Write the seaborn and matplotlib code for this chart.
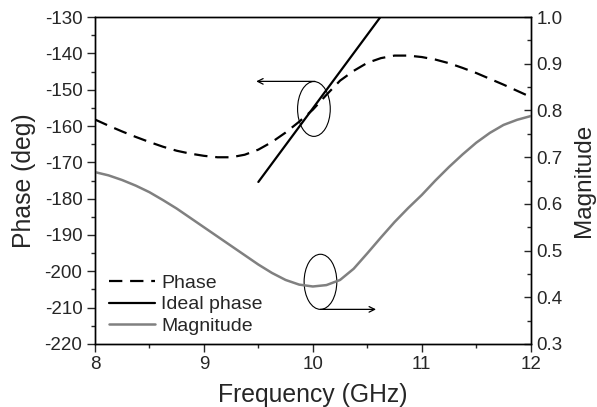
import numpy as np
import pandas as pd
import seaborn as sns
import matplotlib.pyplot as plt
from matplotlib.patches import Ellipse
from matplotlib.ticker import MultipleLocator

freq = [8.0, 8.125, 8.25, 8.375, 8.5, 8.625, 8.75, 8.875, 9.0, 9.125, 9.25,
        9.375, 9.5, 9.625, 9.75, 9.875, 10.0, 10.125, 10.25, 10.375, 10.5,
        10.625, 10.75, 10.875, 11.0, 11.125, 11.25, 11.375, 11.5, 11.625,
        11.75, 11.875, 12.0]
phase = [-158.2, -159.9, -161.5, -163.0, -164.4, -165.7, -166.8, -167.6,
         -168.2, -168.6, -168.6, -167.9, -166.5, -164.4, -161.8, -158.8,
         -155.5, -151.4, -147.5, -144.8, -142.6, -141.3, -140.6, -140.6,
         -141.0, -141.7, -142.7, -144.0, -145.4, -147.0, -148.6, -150.3,
         -152.0]
magnitude = [0.668, 0.661, 0.651, 0.639, 0.625, 0.608, 0.590, 0.570, 0.550,
             0.530, 0.510, 0.490, 0.470, 0.452, 0.437, 0.427, 0.423, 0.426,
             0.437, 0.461, 0.494, 0.528, 0.561, 0.591, 0.619, 0.650, 0.679,
             0.706, 0.731, 0.752, 0.769, 0.780, 0.788]

ideal_freq = [9.5, 10.62]
ideal_phase = [-175.4, -130.0]

df = pd.DataFrame({'freq': freq, 'phase': phase, 'magnitude': magnitude})
ideal = pd.DataFrame({'freq': ideal_freq, 'phase': ideal_phase})

sns.set_style('ticks')
plt.rcParams['font.family'] = ['Liberation Sans', 'DejaVu Sans']
plt.rcParams['axes.unicode_minus'] = False

fig = plt.figure(figsize=(5.97, 4.07), dpi=100)
ax = fig.add_axes([0.159, 0.155, 0.730, 0.803])
ax2 = ax.twinx()

sns.lineplot(data=df, x='freq', y='phase', ax=ax, color='black', lw=1.6,
             label='Phase', legend=False)
ax.lines[-1].set_dashes((6, 3.5))
sns.lineplot(data=ideal, x='freq', y='phase', ax=ax, color='black', lw=1.6,
             label='Ideal phase', legend=False)
sns.lineplot(data=df, x='freq', y='magnitude', ax=ax2, color='#808080',
             lw=1.8, label='Magnitude', legend=False)

ax.set_xlim(8, 12)
ax.set_ylim(-220, -130)
ax2.set_ylim(0.3, 1.0)

ax.xaxis.set_major_locator(MultipleLocator(1))
ax.xaxis.set_minor_locator(MultipleLocator(0.5))
ax.yaxis.set_major_locator(MultipleLocator(10))
ax.yaxis.set_minor_locator(MultipleLocator(5))
ax2.yaxis.set_major_locator(MultipleLocator(0.1))
ax2.yaxis.set_minor_locator(MultipleLocator(0.05))
ax2.yaxis.set_major_formatter(plt.FormatStrFormatter('%.1f'))

ax.tick_params(axis='both', which='major', direction='out', length=6,
               width=1, labelsize=13.5, top=False, pad=3)
ax.tick_params(axis='both', which='minor', direction='out', length=3,
               width=1, top=False)
ax2.tick_params(axis='y', which='major', direction='in', length=5, width=1,
                labelsize=13.5, pad=4)
ax2.tick_params(axis='y', which='minor', direction='in', length=3, width=1)

for a in (ax, ax2):
    for s in a.spines.values():
        s.set_visible(True)
        s.set_linewidth(1.0)
        s.set_color('black')

ax.set_xlabel('Frequency (GHz)', fontsize=17.8, labelpad=7)
ax.set_ylabel('Phase (deg)', fontsize=17.8)
ax2.set_ylabel('Magnitude', fontsize=17.5)
ax.yaxis.set_label_coords(-0.136, 0.5)
ax2.yaxis.set_label_coords(1.098, 0.5)

# ellipses with arrows pointing to the matching axis
ax.add_patch(Ellipse((10.01, -155.3), 0.30, 15.1, fill=False,
                     edgecolor='black', lw=0.8))
ax.annotate('', xy=(9.48, -147.7), xytext=(10.02, -147.7),
            arrowprops=dict(arrowstyle='->', color='black', lw=0.9,
                            shrinkA=0, shrinkB=0))
ax2.add_patch(Ellipse((10.07, 0.433), 0.30, 0.118, fill=False,
                      edgecolor='black', lw=0.8))
ax2.annotate('', xy=(10.58, 0.374), xytext=(10.07, 0.374),
             arrowprops=dict(arrowstyle='->', color='black', lw=0.9,
                             shrinkA=0, shrinkB=0))

handles = ax.get_lines()[:2] + ax2.get_lines()[:1]
ax2.legend(handles, [h.get_label() for h in handles], loc='lower left',
           bbox_to_anchor=(0.005, -0.008), frameon=False, fontsize=14,
           handlelength=2.4, labelspacing=0.2, handletextpad=0.3,
           borderaxespad=0.2)

plt.savefig('out.png', dpi=100)
plt.close()
